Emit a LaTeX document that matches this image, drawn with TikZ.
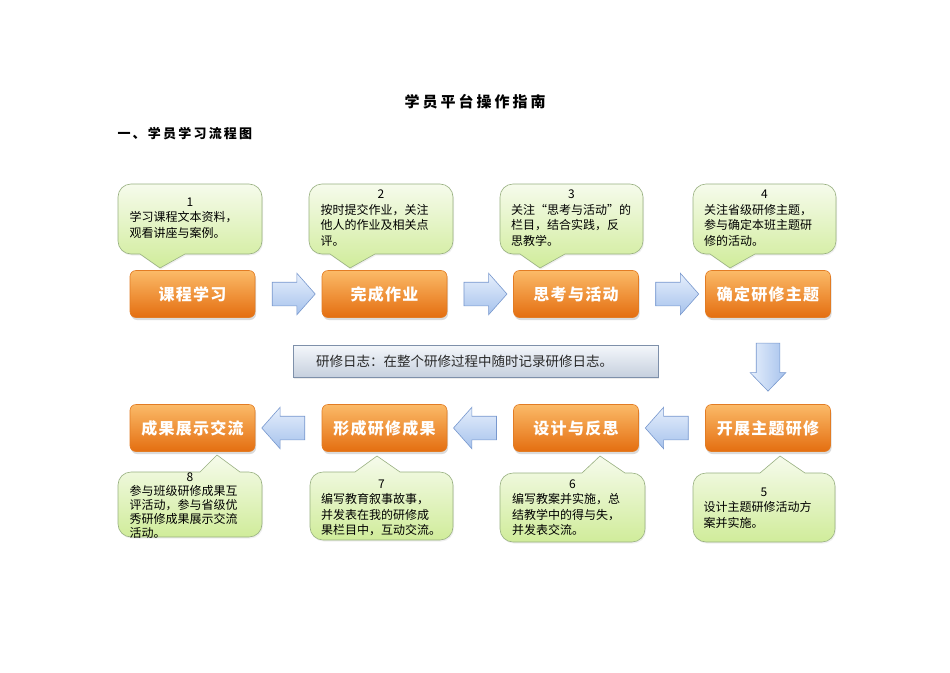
\documentclass[tikz,border=0pt]{standalone}
\usepackage{fontspec}
\setmainfont{Noto Sans CJK SC}
\usetikzlibrary{shapes.arrows,shadows,calc}
\definecolor{obord}{RGB}{226,124,36}
\definecolor{otop}{RGB}{251,186,104}
\definecolor{obot}{RGB}{228,110,16}
\definecolor{abord}{RGB}{120,152,206}
\definecolor{atop}{RGB}{230,239,252}
\definecolor{abot}{RGB}{166,194,236}
\definecolor{cbord}{RGB}{152,176,128}
\definecolor{ctop}{RGB}{246,251,236}
\definecolor{cbot}{RGB}{208,236,154}
\definecolor{lbord}{RGB}{126,144,170}
\definecolor{ltop}{RGB}{244,247,251}
\definecolor{lbot}{RGB}{198,208,222}
\tikzset{
  obox/.style={draw=obord, line width=0.6pt, rounded corners=6pt,
    top color=otop, bottom color=obot, minimum width=125pt, minimum height=47pt,
    inner sep=0pt, text=white,
    font=\fontsize{16}{16}\selectfont\bfseries\addfontfeature{LetterSpace=8},
    drop shadow={opacity=0.28, shadow xshift=1pt, shadow yshift=-2.5pt}},
  barrow/.style={single arrow, draw=abord, line width=0.6pt, top color=atop, bottom color=abot,
    minimum height=43pt, minimum width=41pt, single arrow head extend=9pt,
    single arrow tip angle=97, inner sep=11.5pt},
  darrow/.style={single arrow, draw=abord, line width=0.6pt, left color=atop, right color=abot,
    minimum height=48pt, minimum width=35pt, single arrow head extend=6pt,
    single arrow tip angle=88, inner sep=11.5pt, shape border rotate=270},
  cshape/.style={draw=cbord, line width=0.6pt, top color=ctop, bottom color=cbot,
    drop shadow={opacity=0.12, shadow xshift=1pt, shadow yshift=-1.5pt}},
  ctext/.style={font=\fontsize{12}{15.5}\selectfont, align=left, inner sep=0pt, text width=121pt},
  logbox/.style={draw=lbord, line width=0.7pt, top color=ltop, bottom color=lbot,
    minimum width=365pt, minimum height=32pt, inner sep=0pt, text width=319pt, align=left,
    font=\fontsize{13.5}{15}\selectfont, text={rgb,255:red,40;green,40;blue,40},
    drop shadow={opacity=0.15, shadow xshift=1pt, shadow yshift=-1.5pt}}
}
% rounded corners drawn explicitly (r=13, k=5.8)
% callout with pointer below: x1,y1(top),x2,y2(bottom),bx1,bx2,tipx,tipy
\newcommand\mycalldn[8]{\path[cshape] ({#1+13},#2) -- ({#3-13},#2)
  .. controls ({#3-5.8},#2) and (#3,{#2+5.8}) .. (#3,{#2+13}) -- (#3,{#4-13})
  .. controls (#3,{#4-5.8}) and ({#3-5.8},#4) .. ({#3-13},#4)
  -- (#6,#4) -- (#7,#8) -- (#5,#4) -- ({#1+13},#4)
  .. controls ({#1+5.8},#4) and (#1,{#4-5.8}) .. (#1,{#4-13}) -- (#1,{#2+13})
  .. controls (#1,{#2+5.8}) and ({#1+5.8},#2) .. ({#1+13},#2) -- cycle;}
% callout with pointer above
\newcommand\mycallup[8]{\path[cshape] ({#1+13},#2) -- (#5,#2) -- (#7,#8) -- (#6,#2) -- ({#3-13},#2)
  .. controls ({#3-5.8},#2) and (#3,{#2+5.8}) .. (#3,{#2+13}) -- (#3,{#4-13})
  .. controls (#3,{#4-5.8}) and ({#3-5.8},#4) .. ({#3-13},#4)
  -- ({#1+13},#4)
  .. controls ({#1+5.8},#4) and (#1,{#4-5.8}) .. (#1,{#4-13}) -- (#1,{#2+13})
  .. controls (#1,{#2+5.8}) and ({#1+5.8},#2) .. ({#1+13},#2) -- cycle;}
\newcommand\num[1]{\makebox[\linewidth][c]{#1}}
\begin{document}
\begin{tikzpicture}[x=1pt,y=-1pt]
\useasboundingbox[fill=white] (0,0) rectangle (950,672);

% titles
\node[font=\fontsize{15}{15}\selectfont\bfseries\addfontfeature{LetterSpace=20}] (title) at (475,102) {学员平台操作指南};
\node[anchor=west, font=\fontsize{13}{13}\selectfont\bfseries\addfontfeature{LetterSpace=17}] (sub) at (114,134) {一、学员学习流程图};

% callouts (shapes)
\mycalldn{118}{184}{262}{254}{140}{185}{160}{268}
\mycalldn{309}{184}{453}{254}{330}{375}{350}{268}
\mycalldn{500}{184}{643}{254}{520}{565}{540}{268}
\mycalldn{693}{184}{836}{254}{710}{755}{730}{268}
\mycallup{693}{473}{835}{542}{760}{805}{780}{456}
\mycallup{500}{473}{645}{542}{582}{625}{600}{456}
\mycallup{310}{472}{453}{540}{355}{400}{377}{456}
\mycallup{118}{472}{262}{537}{200}{240}{217}{455}

% callout texts
\node[ctext] (c1) at (190,218) {\num{1}\\学习课程文本资料，\\观看讲座与案例。};
\node[ctext] (c2) at (381,218) {\num{2}\\按时提交作业，关注\\他人的作业及相关点\\评。};
\node[ctext] (c3) at (571.5,218) {\num{3}\\关注“思考与活动”的\\栏目，结合实践，反\\思教学。};
\node[ctext] (c4) at (764.5,218) {\num{4}\\关注省级研修主题，\\参与确定本班主题研\\修的活动。};
\node[ctext] (c5) at (764,508) {\num{5}\\设计主题研修活动方\\案并实施。};
\node[ctext] (c6) at (572.5,507.5) {\num{6}\\编写教案并实施，总\\结教学中的得与失，\\并发表交流。};
\node[ctext] (c7) at (381.5,508) {\num{7}\\编写教育叙事故事，\\并发表在我的研修成\\果栏目中，互动交流。};
\node[ctext, font=\fontsize{12}{14}\selectfont] (c8) at (190,506) {\num{8}\\参与班级研修成果互\\评活动，参与省级优\\秀研修成果展示交流\\活动。};

% orange boxes
\node[obox] (b1) at (192.5,294) {课程学习};
\node[obox] (b2) at (384.5,294) {完成作业};
\node[obox] (b3) at (576,294) {思考与活动};
\node[obox] (b4) at (768,294) {确定研修主题};
\node[obox] (b5) at (768,428) {开展主题研修};
\node[obox] (b6) at (576,428) {设计与反思};
\node[obox] (b7) at (384.5,428) {形成研修成果};
\node[obox] (b8) at (192.5,428) {成果展示交流};

% block arrows
\node[barrow] (a12) at ($(b1.east)!0.5!(b2.west)$) {};
\node[barrow] (a23) at ($(b2.east)!0.5!(b3.west)$) {};
\node[barrow] (a34) at ($(b3.east)!0.5!(b4.west)$) {};
\node[darrow] (a45) at ($(b4.south)!0.5!(b5.north)$) {};
\node[barrow, shape border rotate=180] (a56) at ($(b5.west)!0.5!(b6.east)$) {};
\node[barrow, shape border rotate=180] (a67) at ($(b6.west)!0.5!(b7.east)$) {};
\node[barrow, shape border rotate=180] (a78) at ($(b7.west)!0.5!(b8.east)$) {};

% log box
\node[logbox] (log) at (475.5,361) {研修日志：在整个研修过程中随时记录研修日志。};
\end{tikzpicture}
\end{document}
